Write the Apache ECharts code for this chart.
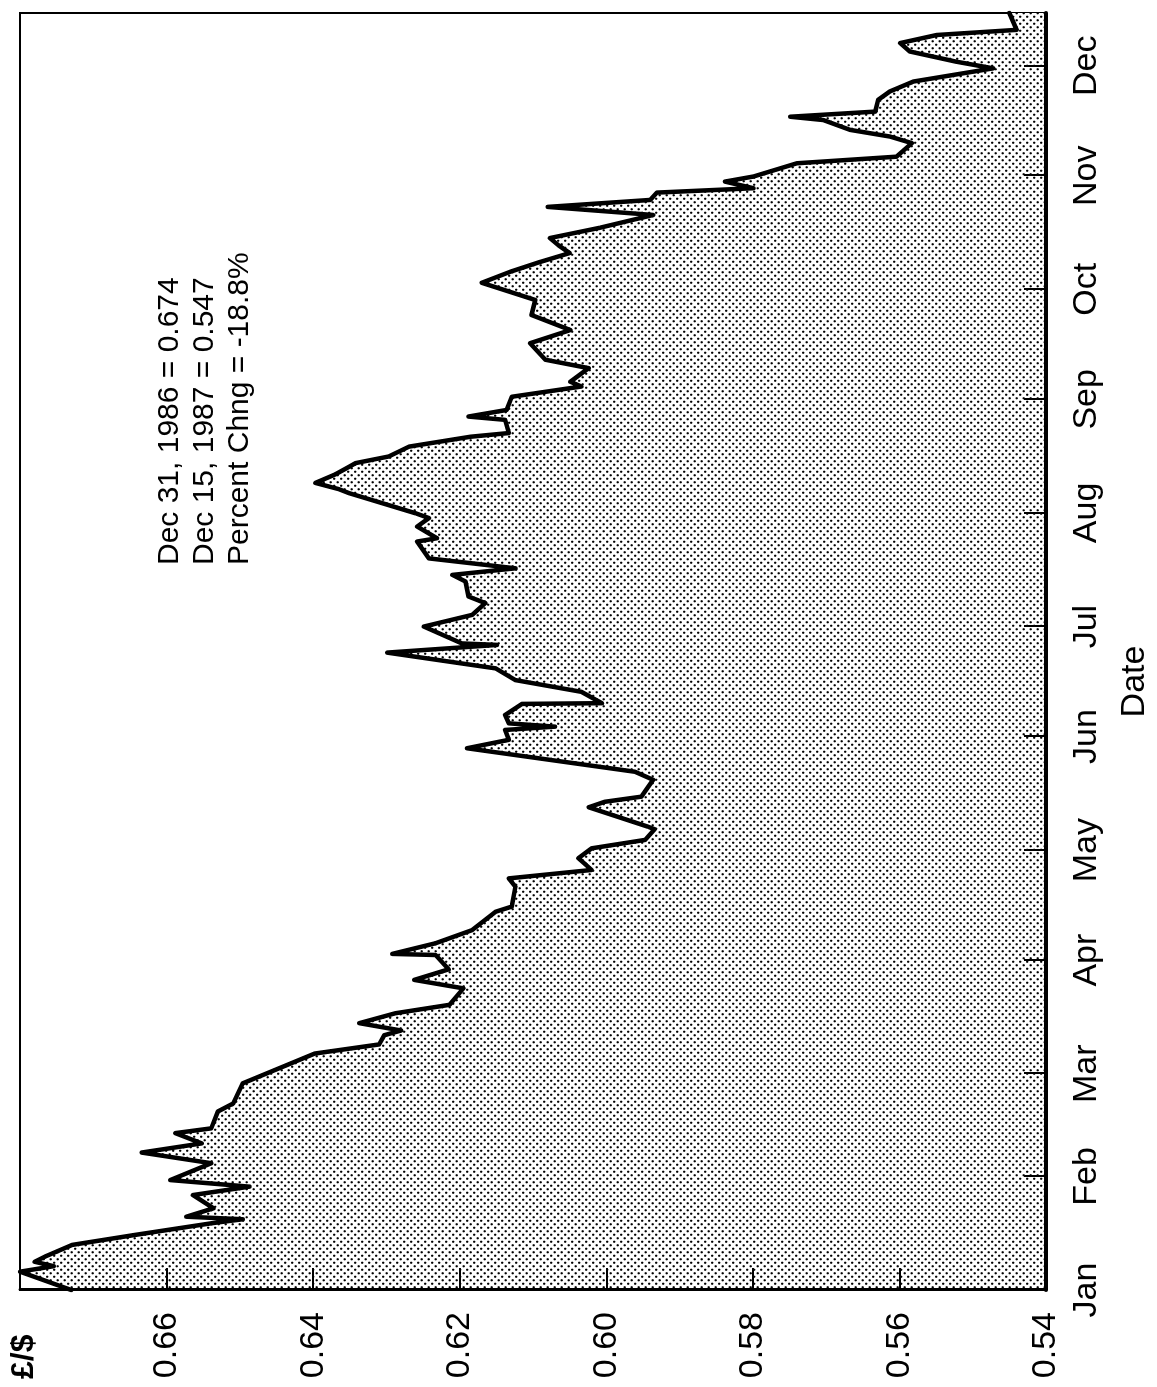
<!DOCTYPE html>
<html>
<head>
<meta charset="utf-8">
<script src="https://cdn.jsdelivr.net/npm/echarts@6/dist/echarts.min.js"></script>
<style>
  html, body { margin: 0; padding: 0; background: #fff; overflow: hidden; width: 1157px; height: 1387px; }
  #chart { position: absolute; left: 0; top: 0; width: 1387px; height: 1157px;
           transform-origin: 0 0; transform: translate(0px, 1387px) rotate(-90deg); }
</style>
</head>
<body>
<div id="chart"></div>
<script>
// Day of year 1987 (0 = Jan 1) and £/$ rate
const days = [0, 5.0, 6.5, 7.7, 9.1, 12.3, 15.0, 18.2, 19.3, 20.0, 22.3, 25.9, 28.2, 30.0, 34.6, 37.5, 40.0, 42.8, 44.1, 48.7,
  50.9, 56.4, 64.5, 67.0, 69.5, 70.8, 72.8, 75.5, 77.8, 82.3, 84.6, 87.5, 91.4, 91.7, 94.6, 98.2, 103.2, 104.6, 110.0, 112.3,
  114.6, 117.8, 120.5, 122.8, 125.7, 126.4, 131.7, 133.2, 134.6, 139.2, 141.4, 147.8, 150.1, 152.8, 153.7, 154.6, 156.9, 159.9, 160.1, 163.2,
  166.4, 169.6, 173.9, 176.0, 176.4, 181.0, 184.2, 187.4, 189.2, 193.3, 195.1, 196.9, 199.6, 204.2, 205.1, 208.3, 210.6, 211.9, 217.4, 218.5,
  220.2, 222.5, 224.6, 225.6, 227.4, 230.1, 232.8, 233.8, 237.4, 238.3, 240.1, 243.7, 246.5, 247.8, 251.5, 253.8, 258.3, 261.9, 266.0, 270.1,
  272.3, 274.8, 277.8, 280.5, 282.9, 285.0, 287.0, 289.8, 293.3, 295.5, 297.4, 299.4, 300.6, 302.4, 303.8, 307.4, 309.2, 312.9, 314.7, 316.5,
  319.2, 320.1, 321.5, 324.7, 327.0, 329.7, 333.3, 335.1, 337.9, 340.2, 342.4, 343.8, 348.4];
const rates = [0.673, 0.680, 0.6754, 0.678, 0.6766, 0.6729, 0.6644, 0.6539, 0.6496, 0.6573, 0.6536, 0.6564, 0.6487, 0.6595, 0.6539, 0.6634, 0.6552, 0.6588, 0.6539, 0.6530,
  0.6509, 0.6496, 0.6398, 0.6310, 0.6303, 0.6280, 0.6337, 0.6288, 0.6214, 0.6195, 0.6262, 0.6215, 0.6233, 0.6292, 0.6233, 0.6183, 0.6151, 0.6129, 0.6124, 0.6133,
  0.6020, 0.6038, 0.6020, 0.5947, 0.5934, 0.5943, 0.6024, 0.6002, 0.5952, 0.5936, 0.5961, 0.6190, 0.6133, 0.6138, 0.6070, 0.6133, 0.6138, 0.6115, 0.6006, 0.6034,
  0.6124, 0.6151, 0.6299, 0.6149, 0.6197, 0.6249, 0.6183, 0.6165, 0.6188, 0.6192, 0.6210, 0.6124, 0.6242, 0.6258, 0.6231, 0.6258, 0.6242, 0.6260, 0.6351, 0.6365,
  0.6397, 0.6370, 0.6351, 0.6342, 0.6297, 0.6269, 0.6185, 0.6133, 0.6138, 0.6188, 0.6136, 0.6129, 0.6034, 0.6049, 0.6024, 0.6083, 0.6104, 0.6049, 0.6102, 0.6097,
  0.6131, 0.6170, 0.6131, 0.6090, 0.6050, 0.6065, 0.6077, 0.6009, 0.5936, 0.6080, 0.5940, 0.5931, 0.5799, 0.5838, 0.5799, 0.5740, 0.5604, 0.5583, 0.5613, 0.5667,
  0.5704, 0.5749, 0.5633, 0.5629, 0.5613, 0.5581, 0.5472, 0.5522, 0.5586, 0.5599, 0.5549, 0.5440, 0.5450];

const monthNames = ['Jan', 'Feb', 'Mar', 'Apr', 'May', 'Jun', 'Jul', 'Aug', 'Sep', 'Oct', 'Nov', 'Dec'];
const monthStarts = [0, 31, 59, 90, 120, 151, 181, 212, 243, 273, 304, 334];
const rateTicks = [0.54, 0.56, 0.58, 0.60, 0.62, 0.64, 0.66];
const annotationLines = ['Dec 31, 1986 = 0.674', 'Dec 15, 1987 = 0.547', 'Percent Chng = -18.8%'];
const valueAxisTitle = '£/$';
const dateAxisTitle = 'Date';

// stipple pattern for the area
const pat = document.createElement('canvas');
pat.width = 7; pat.height = 7;
const pc = pat.getContext('2d');
pc.fillStyle = '#fff'; pc.fillRect(0, 0, 7, 7);
pc.fillStyle = '#000';
pc.beginPath(); pc.arc(1.75, 1.75, 1.15, 0, Math.PI * 2); pc.fill();
pc.beginPath(); pc.arc(5.25, 5.25, 1.15, 0, Math.PI * 2); pc.fill();

const FONT = '"Liberation Sans", Arial, Helvetica, sans-serif';
const chart = echarts.init(document.getElementById('chart'), null, { renderer: 'canvas' });
chart.setOption({
  animation: false,
  backgroundColor: '#fff',
  grid: { left: 97, right: 13, top: 20, bottom: 111, show: true, borderColor: '#000', borderWidth: 2, backgroundColor: 'transparent' },
  xAxis: {
    type: 'value', min: 0, max: 348.4, z: 5,
    axisLine: { show: true, lineStyle: { color: '#000', width: 4 } },
    axisTick: { show: true, inside: true, length: 22, lineStyle: { color: '#000', width: 2 }, customValues: monthStarts.slice(1) },
    axisLabel: { customValues: monthStarts, formatter: v => monthNames[monthStarts.indexOf(v)] || '',
      fontSize: 34, fontFamily: FONT, color: '#000', margin: 24 },
    splitLine: { show: false },
    name: dateAxisTitle, nameLocation: 'middle', nameGap: 72,
    nameTextStyle: { fontSize: 34, fontFamily: FONT, color: '#000', padding: [0, 60, 0, 0] }
  },
  yAxis: {
    type: 'value', min: 0.54, max: 0.68, z: 5,
    axisLine: { show: true, lineStyle: { color: '#000', width: 3 } },
    axisTick: { show: true, inside: true, length: 22, lineStyle: { color: '#000', width: 2 }, customValues: rateTicks.slice(1) },
    axisLabel: { customValues: rateTicks, formatter: v => v.toFixed(2), fontSize: 34, fontFamily: FONT, color: '#000', margin: 22 },
    splitLine: { show: false }
  },
  graphic: [
    { type: 'text', left: 822, top: 152, silent: true,
      style: { text: annotationLines.join('\n'), font: '30px ' + FONT, fill: '#000', lineHeight: 35 } },
    { type: 'text', left: 8, top: 8, silent: true,
      style: { text: valueAxisTitle, font: 'bold 32px ' + FONT, fill: '#000' } }
  ],
  series: [{
    type: 'line', z: 2,
    data: days.map((d, i) => [d, rates[i]]),
    symbol: 'none', showSymbol: false, silent: true, clip: true,
    lineStyle: { color: '#000', width: 4.5, join: 'round', cap: 'round' },
    areaStyle: { origin: 'start', opacity: 1, color: { image: pat, repeat: 'repeat' } }
  }]
});
</script>
</body>
</html>
